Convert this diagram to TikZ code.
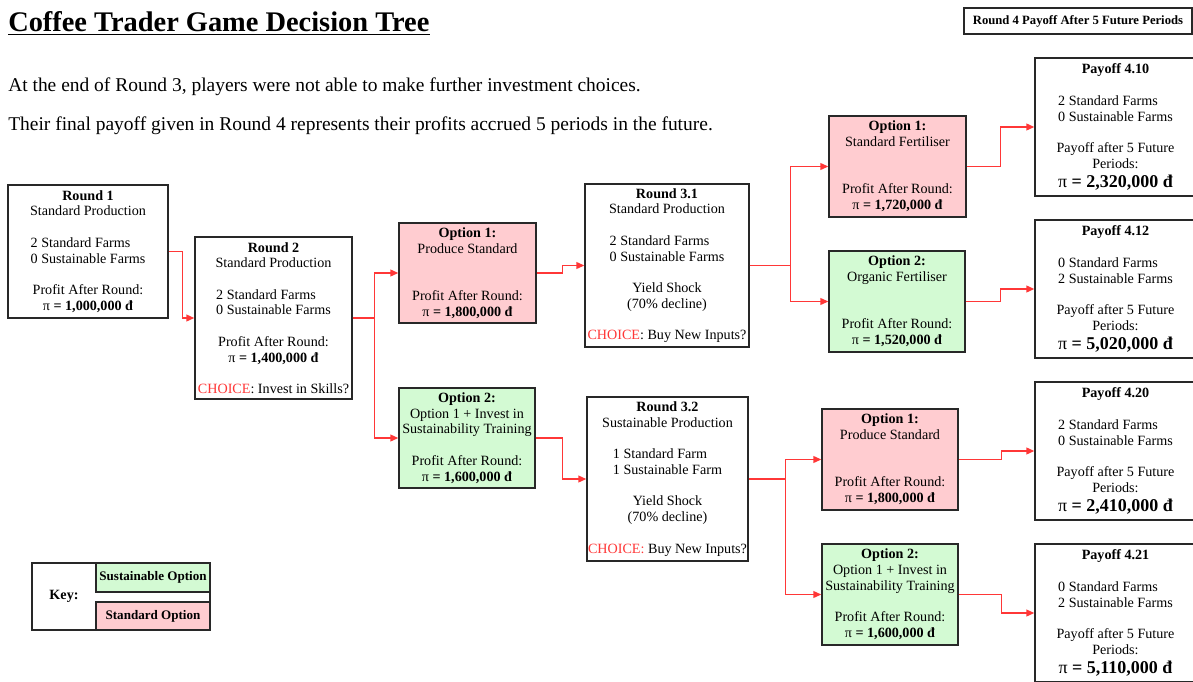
\documentclass[tikz,border=0pt]{standalone}
\usepackage{fontspec}
\setmainfont{Liberation Serif}
\usepackage{tikz}
\usetikzlibrary{arrows.meta}

\definecolor{stdpink}{RGB}{255,204,208}
\definecolor{susgreen}{RGB}{211,250,211}
\definecolor{linkred}{RGB}{255,55,55}
\definecolor{edgegray}{RGB}{40,40,40}

\newcommand{\boxfont}{\fontsize{10.6}{11.8}\selectfont}
\newcommand{\profit}[1]{\textbf{\textmd{π} = #1 đ}}
\newcommand{\bigpay}[1]{{\fontsize{13.5}{15}\selectfont\profit{#1}}}
\newcommand{\choice}{\textcolor{linkred}{CHOICE}}
\newlength{\farmwd}
\newcommand{\farms}[2]{\settowidth{\farmwd}{#2}\makebox[\farmwd][l]{#1}\\#2}
% one empty line, two empty lines
\newcommand{\skipone}{\\[\baselineskip]}
\newcommand{\skiptwo}{\\[2\baselineskip]}

\tikzset{
  stage/.style={draw=edgegray, line width=0.9pt, fill=white, inner sep=0pt, align=center, font=\boxfont},
  stdopt/.style={stage, fill=stdpink},
  susopt/.style={stage, fill=susgreen},
  dims/.style 2 args={minimum width=#1*0.75pt, minimum height=#2*0.75pt},
  link/.style={draw=linkred, line width=1.3pt, -{Triangle[length=6pt,width=5pt]}}
}

\begin{document}
\begin{tikzpicture}[x=0.75pt, y=-0.75pt]
\useasboundingbox (0,0) rectangle (1193,682);

% heading and notes
\node[anchor=base west, inner sep=0pt, font=\fontsize{21.3}{25}\selectfont\bfseries] (title) at (8,31)
  {Coffee Trader Game Decision Tree};
\draw[line width=1.1pt] ([yshift=-2.6pt]title.base west) -- ([yshift=-2.6pt]title.base east);
\node[anchor=base west, inner sep=0pt, font=\fontsize{14.6}{17}\selectfont] (note1) at (8,91)
  {At the end of Round 3, players were not able to make further investment choices.};
\node[anchor=base west, inner sep=0pt, font=\fontsize{14.6}{17}\selectfont] (note2) at (8,130)
  {Their final payoff given in Round 4 represents their profits accrued 5 periods in the future.};
\node[stage, font=\fontsize{9.5}{11}\selectfont\bfseries, dims={228}{26}] (hdr) at (1078,21)
  {Round 4 Payoff After 5 Future Periods};

% rounds 1 and 2
\node[stage, dims={160}{133}] (r1) at (88,251.5)
  {\textbf{Round 1}\\Standard Production\skipone\farms{2 Standard Farms}{0 Sustainable Farms}\skipone Profit After Round:\\\profit{1,000,000}};
\node[stage, dims={157}{162}] (r2) at (273.5,318)
  {\textbf{Round 2}\\Standard Production\skipone\farms{2 Standard Farms}{0 Sustainable Farms}\skipone Profit After Round:\\\profit{1,400,000}\skipone\choice: Invest in Skills?};

% round 2 options
\node[stdopt, dims={137}{100}] (o1) at (467.5,273)
  {\textbf{Option 1:}\\Produce Standard\skiptwo Profit After Round:\\\profit{1,800,000}};
\node[susopt, dims={136}{100}] (o2) at (467,438)
  {\textbf{Option 2:}\\Option 1 + Invest in\\Sustainability Training\skipone Profit After Round:\\\profit{1,600,000}};

% round 3
\node[stage, dims={164}{163}] (r31) at (667,265.5)
  {\textbf{Round 3.1}\\Standard Production\skipone\farms{2 Standard Farms}{0 Sustainable Farms}\skipone Yield Shock\\(70\% decline)\skipone\choice: Buy New Inputs?};
\node[stage, dims={161}{164}] (r32) at (667.5,479)
  {\textbf{Round 3.2}\\Sustainable Production\skipone\farms{1 Standard Farm}{1 Sustainable Farm}\skipone Yield Shock\\(70\% decline)\skipone\textcolor{linkred}{CHOICE:} Buy New Inputs?};

% round 3 options
\node[stdopt, dims={137}{101}] (o11) at (897.5,166.5)
  {\textbf{Option 1:}\\Standard Fertiliser\skiptwo Profit After Round:\\\profit{1,720,000}};
\node[susopt, dims={136}{101}] (o12) at (897,301.5)
  {\textbf{Option 2:}\\Organic Fertiliser\skiptwo Profit After Round:\\\profit{1,520,000}};
\node[stdopt, dims={136}{101}] (o21) at (890,459.5)
  {\textbf{Option 1:}\\Produce Standard\skiptwo Profit After Round:\\\profit{1,800,000}};
\node[susopt, dims={136}{101}] (o22) at (890,594.5)
  {\textbf{Option 2:}\\Option 1 + Invest in\\Sustainability Training\skipone Profit After Round:\\\profit{1,600,000}};

% payoffs
\node[stage, dims={161}{138}] (p410) at (1115.5,127)
  {\textbf{Payoff 4.10}\skipone\farms{2 Standard Farms}{0 Sustainable Farms}\skipone Payoff after 5 Future\\Periods:\\[2.5pt]\bigpay{2,320,000}};
\node[stage, dims={161}{138}] (p412) at (1115.5,289)
  {\textbf{Payoff 4.12}\skipone\farms{0 Standard Farms}{2 Sustainable Farms}\skipone Payoff after 5 Future\\Periods:\\[2.5pt]\bigpay{5,020,000}};
\node[stage, dims={161}{138}] (p420) at (1115.5,451)
  {\textbf{Payoff 4.20}\skipone\farms{2 Standard Farms}{0 Sustainable Farms}\skipone Payoff after 5 Future\\Periods:\\[2.5pt]\bigpay{2,410,000}};
\node[stage, dims={161}{138}] (p421) at (1115.5,613)
  {\textbf{Payoff 4.21}\skipone\farms{0 Standard Farms}{2 Sustainable Farms}\skipone Payoff after 5 Future\\Periods:\\[2.5pt]\bigpay{5,110,000}};

% key
\node[stage, dims={178}{67}] (keyframe) at (121,596.5) {};
\node[font=\boxfont\bfseries] (keylbl) at (64,596) {Key:};
\node[susopt, font=\fontsize{9.8}{11}\selectfont\bfseries, dims={114}{29}] (keysus) at (153,577.5) {Sustainable Option};
\node[stdopt, font=\fontsize{9.8}{11}\selectfont\bfseries, dims={114}{28}] (keystd) at (153,616) {Standard Option};

% connectors
\draw[link] (r1.east) -- ++(14,0) |- (r2.west);
\draw[link] (r2.east) -- ++(22,0) |- (o1.west);
\draw[link] (r2.east) -- ++(22,0) |- (o2.west);
\draw[link] (o1.east) -- ++(26,0) |- (r31.west);
\draw[link] (o2.east) -- ++(27,0) |- (r32.west);
\draw[link] (r31.east) -- ++(41,0) |- (o11.west);
\draw[link] (r31.east) -- ++(41,0) |- (o12.west);
\draw[link] (r32.east) -- ++(37,0) |- (o21.west);
\draw[link] (r32.east) -- ++(37,0) |- (o22.west);
\draw[link] (o11.east) -- ++(34,0) |- (p410.west);
\draw[link] (o12.east) -- ++(35,0) |- (p412.west);
\draw[link] (o21.east) -- ++(43,0) |- (p420.west);
\draw[link] (o22.east) -- ++(43,0) |- (p421.west);
\end{tikzpicture}
\end{document}
